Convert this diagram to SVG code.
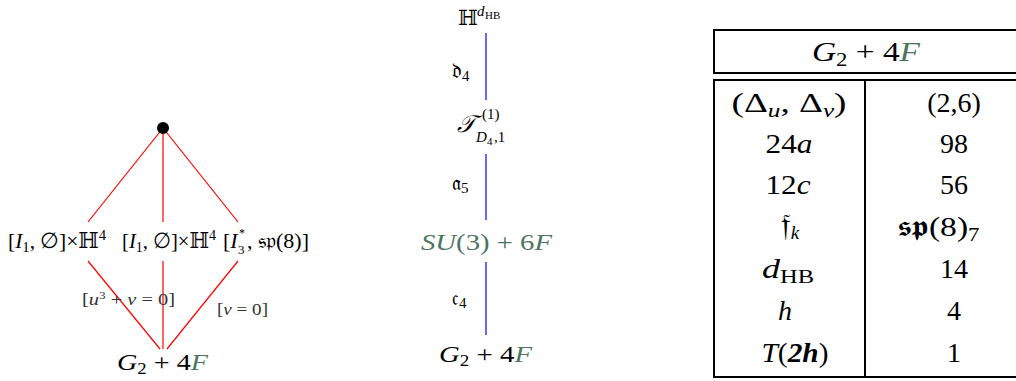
<svg xmlns="http://www.w3.org/2000/svg" width="1016" height="381" viewBox="0 0 1016 381">
<style>
text{font-family:"Liberation Serif","DejaVu Serif",serif;fill:#000}
.m{font-style:italic}
.g{fill:#4d7560}
.lbl{font-size:22px}
.sm{font-size:17px;fill:#333}
.mid{font-size:24px}
.fr{font-size:21px}
.tb{font-size:28px}
.red{stroke:#ff0000;stroke-width:1.2;fill:none}
.blue{stroke:#0000ff;stroke-width:1.2;fill:none}
.frame{stroke:#000;stroke-width:2;fill:none}
</style>
<rect width="1016" height="381" fill="#fff"/>
<g id="connectors">
<line class="red" x1="163" y1="128" x2="88" y2="222"/>
<line class="red" x1="163" y1="128" x2="163" y2="222"/>
<line class="red" x1="163" y1="128" x2="238" y2="222"/>
<line class="red" x1="88" y1="261" x2="160" y2="349"/>
<line class="red" x1="163" y1="261" x2="163" y2="349"/>
<line class="red" x1="238" y1="261" x2="167" y2="349"/>
<line class="blue" x1="486" y1="33" x2="486" y2="100"/>
<line class="blue" x1="486" y1="154" x2="486" y2="220"/>
<line class="blue" x1="486" y1="262" x2="486" y2="335"/>
</g>
<g id="edge-labels">
<text class="sm" x="82" y="305" textLength="93" lengthAdjust="spacingAndGlyphs">[<tspan class="m">u</tspan><tspan font-size="11" dy="-6">3</tspan><tspan dy="6"> + </tspan><tspan class="m">v</tspan> = 0]</text>
<text class="sm" x="217" y="315" textLength="51" lengthAdjust="spacingAndGlyphs">[<tspan class="m">v</tspan> = 0]</text>
<text class="fr" x="452" y="78">𝔡<tspan font-size="15" dy="3">4</tspan></text>
<text class="fr" x="452" y="190">𝔞<tspan font-size="15" dy="3">5</tspan></text>
<text class="fr" x="452" y="305">𝔠<tspan font-size="15" dy="3">4</tspan></text>
</g>
<g id="node-top">
<circle cx="163" cy="128" r="6" fill="#000"/>
</g>
<g id="node-a">
<text class="lbl" x="8" y="248" textLength="98" lengthAdjust="spacingAndGlyphs">[<tspan class="m">I</tspan><tspan font-size="15" dy="4">1</tspan><tspan dy="-4">, ∅]×ℍ</tspan><tspan font-size="15" dy="-8">4</tspan></text>
</g>
<g id="node-b">
<text class="lbl" x="122" y="248" textLength="94" lengthAdjust="spacingAndGlyphs">[<tspan class="m">I</tspan><tspan font-size="15" dy="4">1</tspan><tspan dy="-4">, ∅]×ℍ</tspan><tspan font-size="15" dy="-8">4</tspan></text>
</g>
<g id="node-c">
<text class="lbl" x="223" y="248">[<tspan class="m">I</tspan><tspan font-size="12" x="239" y="237">*</tspan><tspan font-size="13" x="238" y="254">3</tspan><tspan x="247" y="248">, 𝔰𝔭(8)]</tspan></text>
</g>
<g id="node-bottom-left">
<text x="117" y="370" font-size="24" textLength="91" lengthAdjust="spacingAndGlyphs"><tspan class="m">G</tspan><tspan font-size="16" dy="4">2</tspan><tspan dy="-4"> + 4</tspan><tspan class="m g">F</tspan></text>
</g>
<g id="node-hb">
<text font-size="21" x="458" y="25">ℍ<tspan font-size="15" class="m" x="477" y="16">d</tspan><tspan font-size="11" x="485" y="19">HB</tspan></text>
</g>
<g id="node-t">
<text font-size="24" class="m" x="457" y="132">𝒯<tspan font-size="15" font-style="normal" x="482" y="119">(1)</tspan><tspan font-size="15" x="476" y="142">D</tspan><tspan font-size="11" font-style="normal" x="487" y="145">4</tspan><tspan font-size="15" font-style="normal" x="494" y="142">,1</tspan></text>
</g>
<g id="node-su3">
<text class="mid g" x="421" y="250" textLength="131" lengthAdjust="spacingAndGlyphs"><tspan class="m">SU</tspan>(3) + 6<tspan class="m">F</tspan></text>
</g>
<g id="node-g2">
<text font-size="24" x="439" y="362" textLength="93" lengthAdjust="spacingAndGlyphs"><tspan class="m">G</tspan><tspan font-size="16" dy="4">2</tspan><tspan dy="-4"> + 4</tspan><tspan class="m g">F</tspan></text>
</g>
<g id="table">
<rect class="frame" x="714" y="30" width="310" height="43"/>
<rect class="frame" x="714" y="80" width="310" height="297"/>
<line class="frame" x1="865" y1="80" x2="865" y2="377"/>
<text class="tb" x="866" y="61" text-anchor="middle" textLength="108" lengthAdjust="spacingAndGlyphs"><tspan class="m">G</tspan><tspan font-size="19" dy="5">2</tspan><tspan dy="-5"> + 4</tspan><tspan class="m g">F</tspan></text>
<text class="tb" x="789" y="112" text-anchor="middle" textLength="115" lengthAdjust="spacingAndGlyphs">(Δ<tspan font-size="19" dy="5" class="m">u</tspan><tspan dy="-5">, Δ</tspan><tspan font-size="19" dy="5" class="m">v</tspan><tspan dy="-5">)</tspan></text>
<text class="tb" x="789" y="153" text-anchor="middle" textLength="47" lengthAdjust="spacingAndGlyphs">24<tspan class="m">a</tspan></text>
<text class="tb" x="788" y="194" text-anchor="middle" textLength="45" lengthAdjust="spacingAndGlyphs">12<tspan class="m">c</tspan></text>
<text x="790" y="236" text-anchor="middle" font-size="32">𝔣<tspan font-size="19" dy="3" class="m">k</tspan></text>
<text class="tb" x="788" y="278" text-anchor="middle" textLength="52" lengthAdjust="spacingAndGlyphs"><tspan class="m">d</tspan><tspan font-size="19" dy="5">HB</tspan></text>
<text class="tb" x="785" y="320" text-anchor="middle"><tspan class="m">h</tspan></text>
<text class="tb" x="795" y="362" text-anchor="middle" textLength="67" lengthAdjust="spacingAndGlyphs"><tspan class="m">T</tspan>(<tspan font-weight="bold" font-style="italic">2h</tspan>)</text>
<text class="tb" x="954" y="112" text-anchor="middle">(2,6)</text>
<text class="tb" x="954" y="153" text-anchor="middle">98</text>
<text class="tb" x="954" y="194" text-anchor="middle">56</text>
<text class="tb" x="938" y="236" text-anchor="middle" textLength="83" lengthAdjust="spacingAndGlyphs">𝖘𝖕(8)<tspan font-size="19" dy="5">7</tspan></text>
<text class="tb" x="954" y="278" text-anchor="middle">14</text>
<text class="tb" x="954" y="320" text-anchor="middle">4</text>
<text class="tb" x="954" y="362" text-anchor="middle">1</text>
</g>
</svg>
